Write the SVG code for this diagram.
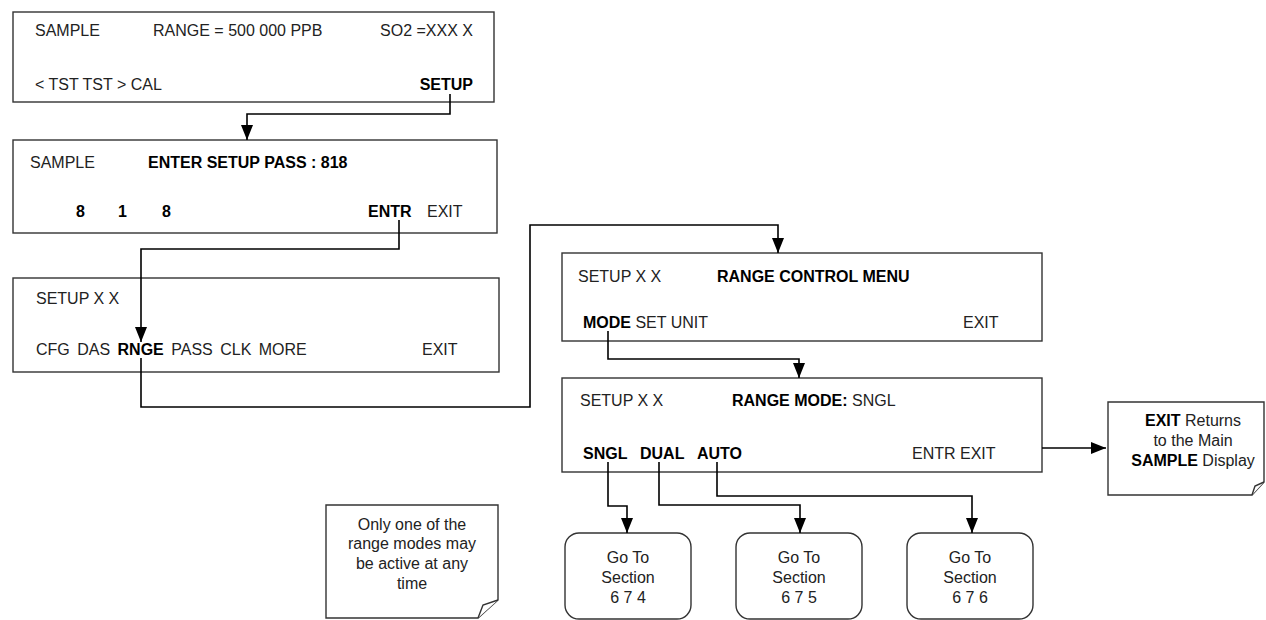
<svg xmlns="http://www.w3.org/2000/svg" width="1266" height="620" viewBox="0 0 1266 620">
  <style>
    text { font-family: "Liberation Sans", Arial, sans-serif; font-size: 16px; fill: #222; }
    .b { font-weight: bold; fill: #000; }
    .c { text-anchor: middle; }
    .e { text-anchor: end; }
    .box { fill: #fff; stroke: #333; stroke-width: 1.4; }
    .conn { fill: none; stroke: #000; stroke-width: 1.6; }
  </style>
  <defs>
    <marker id="arrow" viewBox="0 0 15 12" refX="15" refY="6" markerWidth="15" markerHeight="12" markerUnits="userSpaceOnUse" orient="auto">
      <path d="M0,0 L15,6 L0,12 Z" fill="#000"/>
    </marker>
  </defs>
  <rect width="1266" height="620" fill="#fff"/>

  <g id="box1">
    <rect class="box" x="13" y="12" width="481" height="90"/>
    <text x="35" y="36">SAMPLE</text>
    <text x="153" y="36">RANGE = 500 000 PPB</text>
    <text x="473" y="36" class="e">SO2 =XXX X</text>
    <text x="35" y="90">&lt; TST TST &gt; CAL</text>
    <text x="473" y="90" class="b e">SETUP</text>
  </g>

  <g id="box2">
    <rect class="box" x="13" y="140" width="484" height="93"/>
    <text x="30" y="168">SAMPLE</text>
    <text x="148" y="168" class="b">ENTER SETUP PASS : 818</text>
    <text x="76" y="217" class="b">8</text>
    <text x="118" y="217" class="b">1</text>
    <text x="162" y="217" class="b">8</text>
    <text x="368" y="217" class="b">ENTR</text>
    <text x="427" y="217">EXIT</text>
  </g>

  <g id="box3">
    <rect class="box" x="13" y="278" width="486" height="94"/>
    <text x="36" y="304">SETUP X X</text>
    <text x="36" y="355" style="word-spacing:3px">CFG DAS <tspan class="b">RNGE</tspan> PASS CLK MORE</text>
    <text x="422" y="355">EXIT</text>
  </g>

  <g id="box4">
    <rect class="box" x="562" y="253" width="480" height="88"/>
    <text x="578" y="282">SETUP X X</text>
    <text x="717" y="282" class="b">RANGE CONTROL MENU</text>
    <text x="583" y="328"><tspan class="b">MODE</tspan> SET UNIT</text>
    <text x="963" y="328">EXIT</text>
  </g>

  <g id="box5">
    <rect class="box" x="562" y="378" width="480" height="94"/>
    <text x="580" y="406">SETUP X X</text>
    <text x="732" y="406"><tspan class="b">RANGE MODE:</tspan> SNGL</text>
    <text x="583" y="459" class="b">SNGL</text>
    <text x="640" y="459" class="b">DUAL</text>
    <text x="697" y="459" class="b">AUTO</text>
    <text x="912" y="459">ENTR EXIT</text>
  </g>

  <g id="note-range">
    <path class="box" d="M326,505 H498 V600 L478,618 H326 Z"/>
    <path class="box" d="M498,600 L483,605 L478,618" fill="none"/>
    <text x="412" y="530" class="c">Only one of the</text>
    <text x="412" y="549" class="c">range modes may</text>
    <text x="412" y="569" class="c">be active at any</text>
    <text x="412" y="589" class="c">time</text>
  </g>

  <g id="note-exit">
    <path class="box" d="M1108,402 H1264 V482 L1252,495 H1108 Z"/>
    <path class="box" d="M1264,482 L1255,486 L1252,495" fill="none"/>
    <text x="1193" y="426" class="c"><tspan class="b">EXIT</tspan> Returns</text>
    <text x="1193" y="446" class="c">to the Main</text>
    <text x="1193" y="466" class="c"><tspan class="b">SAMPLE</tspan> Display</text>
  </g>

  <g id="goto674">
    <rect class="box" x="565" y="533" width="126" height="86" rx="14"/>
    <text x="628" y="563" class="c">Go To</text>
    <text x="628" y="583" class="c">Section</text>
    <text x="628" y="603" class="c">6 7 4</text>
  </g>
  <g id="goto675">
    <rect class="box" x="736" y="533" width="126" height="86" rx="14"/>
    <text x="799" y="563" class="c">Go To</text>
    <text x="799" y="583" class="c">Section</text>
    <text x="799" y="603" class="c">6 7 5</text>
  </g>
  <g id="goto676">
    <rect class="box" x="907" y="533" width="126" height="86" rx="14"/>
    <text x="970" y="563" class="c">Go To</text>
    <text x="970" y="583" class="c">Section</text>
    <text x="970" y="603" class="c">6 7 6</text>
  </g>

  <g id="connectors">
    <path class="conn" d="M450,94 V114 H247 V140" marker-end="url(#arrow)"/>
    <path class="conn" d="M399,220 V249 H141 V342" marker-end="url(#arrow)"/>
    <path class="conn" d="M141,358 V407 H530 V225 H778 V253" marker-end="url(#arrow)"/>
    <path class="conn" d="M608,331 V359 H799 V378" marker-end="url(#arrow)"/>
    <path class="conn" d="M608,462 V506 H627 V533" marker-end="url(#arrow)"/>
    <path class="conn" d="M659,462 V505 H800 V533" marker-end="url(#arrow)"/>
    <path class="conn" d="M717,462 V496 H972 V533" marker-end="url(#arrow)"/>
    <path class="conn" d="M1042,448 H1106" marker-end="url(#arrow)"/>
  </g>
</svg>
